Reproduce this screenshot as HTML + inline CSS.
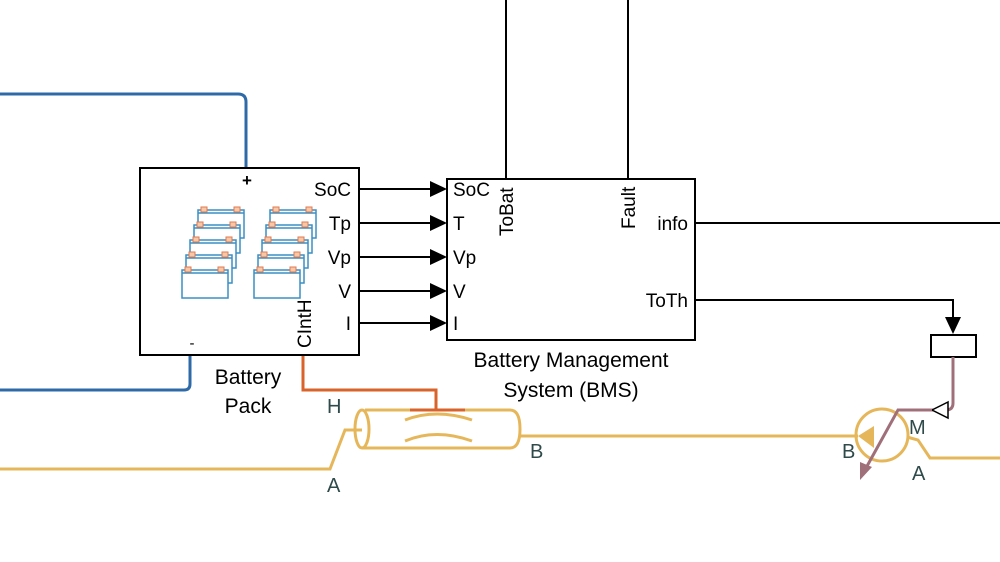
<!DOCTYPE html>
<html><head><style>body{margin:0;background:#fff}svg{display:block}text{font-family:"Liberation Sans",sans-serif}</style></head>
<body>
<svg width="1000" height="562" viewBox="0 0 1000 562" xmlns="http://www.w3.org/2000/svg">
<defs>
<g id="bat">
<rect x="0" y="0" width="46" height="28" fill="#fff" stroke="#3a8fc4" stroke-width="1.5"/>
<line x1="0" y1="3" x2="46" y2="3" stroke="#3a8fc4" stroke-width="1.5"/>
<rect x="3" y="-3" width="6" height="5" fill="#f6c8a8" stroke="#e07a50"/>
<rect x="36" y="-3" width="6" height="5" fill="#f6c8a8" stroke="#e07a50"/>
</g>
</defs>
<path d="M0 94 H238 Q246 94 246 102 V168" fill="none" stroke="#2f6aa8" stroke-width="3"/>
<path d="M0 390 H184 Q190 390 190 384 V355" fill="none" stroke="#2f6aa8" stroke-width="3"/>
<path d="M303 355 V390 H436 V410" fill="none" stroke="#d9632b" stroke-width="3"/>
<rect x="140" y="168" width="219" height="187" fill="#fff" stroke="#000" stroke-width="2"/>
<g>
<use href="#bat" x="198" y="210"/><use href="#bat" x="194" y="225"/><use href="#bat" x="190" y="240"/><use href="#bat" x="186" y="255"/><use href="#bat" x="182" y="270"/>
<use href="#bat" x="270" y="210"/><use href="#bat" x="266" y="225"/><use href="#bat" x="262" y="240"/><use href="#bat" x="258" y="255"/><use href="#bat" x="254" y="270"/>
</g>
<text x="247" y="186" font-size="17" font-weight="bold" text-anchor="middle">+</text>
<text x="192" y="348" font-size="15" text-anchor="middle">-</text>
<g font-size="19" text-anchor="end">
<text x="351" y="196">SoC</text><text x="351" y="230">Tp</text><text x="351" y="264">Vp</text><text x="351" y="298">V</text><text x="351" y="330">I</text>
</g>
<text transform="translate(311,348) rotate(-90)" font-size="19">CIntH</text>
<text x="248" y="384" font-size="21" text-anchor="middle">Battery</text>
<text x="248" y="413" font-size="21" text-anchor="middle">Pack</text>
<g stroke="#000" stroke-width="2">
<line x1="359" y1="189" x2="432" y2="189"/><line x1="359" y1="223" x2="432" y2="223"/><line x1="359" y1="257" x2="432" y2="257"/><line x1="359" y1="291" x2="432" y2="291"/><line x1="359" y1="323" x2="432" y2="323"/>
<line x1="506" y1="0" x2="506" y2="179"/><line x1="628" y1="0" x2="628" y2="179"/>
<line x1="695" y1="223" x2="1000" y2="223"/>
<path d="M695 300 H953 V320" fill="none"/>
</g>
<g fill="#000">
<path d="M430 181 L447 189 L430 197Z"/><path d="M430 215 L447 223 L430 231Z"/><path d="M430 249 L447 257 L430 265Z"/><path d="M430 283 L447 291 L430 299Z"/><path d="M430 315 L447 323 L430 331Z"/>
<path d="M945 317 L961 317 L953 334Z"/>
</g>
<rect x="447" y="179" width="248" height="161" fill="#fff" stroke="#000" stroke-width="2"/>
<g font-size="19">
<text x="453" y="196">SoC</text><text x="453" y="230">T</text><text x="453" y="264">Vp</text><text x="453" y="298">V</text><text x="453" y="330">I</text>
<text x="688" y="230" text-anchor="end">info</text><text x="688" y="307" text-anchor="end">ToTh</text>
</g>
<text transform="translate(513,236) rotate(-90)" font-size="19">ToBat</text>
<text transform="translate(635,229) rotate(-90)" font-size="19">Fault</text>
<text x="571" y="367" font-size="21" text-anchor="middle">Battery Management</text>
<text x="571" y="397" font-size="21" text-anchor="middle">System (BMS)</text>
<rect x="931" y="335" width="45" height="22" fill="#fff" stroke="#000" stroke-width="2"/>
<path d="M953 357 V403 Q953 410 946 410 H932" fill="none" stroke="#a0707a" stroke-width="3"/>
<path d="M948 402 L932 410 L948 418Z" fill="#fff" stroke="#000" stroke-width="1.5"/>
<g fill="none" stroke="#e6b75a" stroke-width="3">
<path d="M0 469 H330 L345 430 H362"/>
<path d="M520 436 H858"/>
<path d="M907 437 L918 440 L930 458 H1000"/>
<path d="M365 410 H510 Q520 410 520 429 Q520 448 510 448 H362"/>
<ellipse cx="362" cy="429" rx="7" ry="19"/>
<path d="M405 420 Q436 408 472 420"/><path d="M405 441 Q436 428 472 441"/>
<circle cx="882" cy="435" r="26"/>
</g>
<path d="M410 410 H465" stroke="#d9632b" stroke-width="3"/>
<path d="M858 436 L874 426 L874 448 Z" fill="#e6b75a"/>
<path d="M932 410 H898 L866 468" fill="none" stroke="#a0707a" stroke-width="3"/>
<path d="M860 480 L860 462 L872 467Z" fill="#a0707a"/>
<g font-size="20" fill="#2f4a4a">
<text x="327" y="413">H</text><text x="327" y="492">A</text><text x="530" y="458">B</text>
<text x="842" y="458">B</text><text x="909" y="434">M</text><text x="912" y="480">A</text>
</g>
</svg>
</body></html>
